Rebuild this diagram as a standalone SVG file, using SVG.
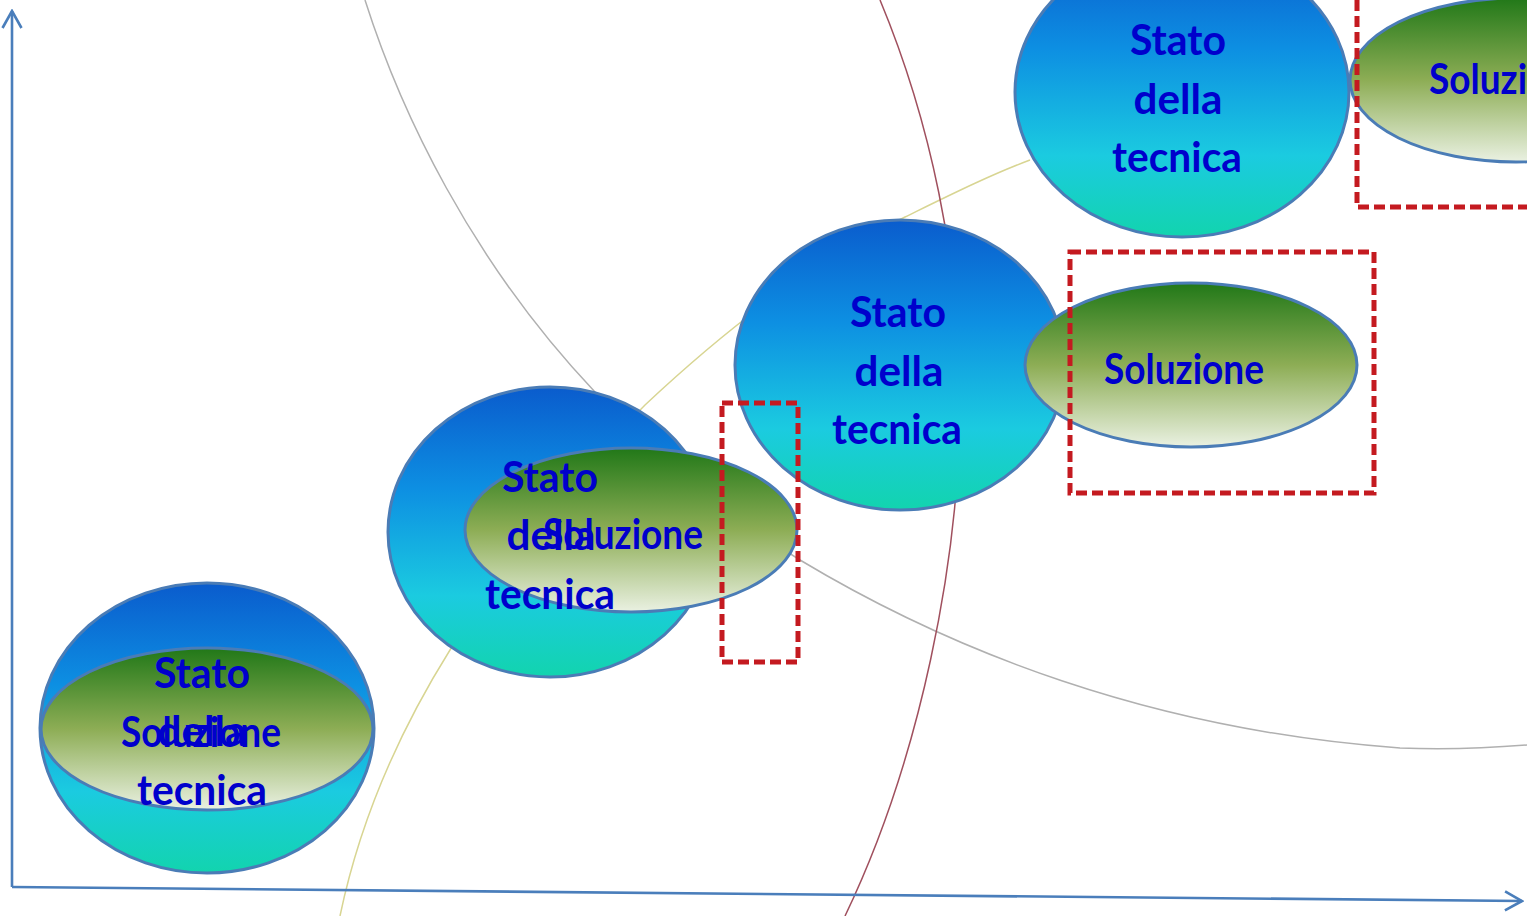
<svg xmlns="http://www.w3.org/2000/svg" width="1527" height="916" viewBox="0 0 1527 916">
  <style>
    .bg { fill: #ffffff; }
    .curve { fill: none; stroke-width: 1.5; }
    .gray { stroke: #b0b0b0; }
    .yellow { stroke: #d8d592; }
    .maroon { stroke: #a0505e; }
    .axis { fill: none; stroke: #4a7ebb; stroke-width: 2.6; }
    .stato { fill: url(#gBlue); stroke: #4a7cb6; stroke-width: 3; }
    .sol { fill: url(#gGreen); stroke: #4a7cb6; stroke-width: 3; }
    .dash { fill: none; stroke: #c41a20; stroke-width: 5; stroke-dasharray: 11 5; }
    .t { font-family: "Lato", "Noto Sans", "Liberation Sans", sans-serif; font-weight: bold; font-size: 42px; fill: #0000cc; text-anchor: middle; }
  </style>
  <defs>
    <linearGradient id="gBlue" x1="0" y1="0" x2="0" y2="1">
      <stop offset="0" stop-color="#0a5ccd"/>
      <stop offset="0.35" stop-color="#0d8fe2"/>
      <stop offset="0.72" stop-color="#1bcbe0"/>
      <stop offset="1" stop-color="#12d4ae"/>
    </linearGradient>
    <linearGradient id="gGreen" x1="0" y1="0" x2="0" y2="1">
      <stop offset="0" stop-color="#217818"/>
      <stop offset="0.5" stop-color="#8dad55"/>
      <stop offset="1" stop-color="#eaf1e2"/>
    </linearGradient>
    <marker id="chev" viewBox="0 0 20 22" refX="18" refY="11" markerWidth="20" markerHeight="22" markerUnits="userSpaceOnUse" orient="auto">
      <path d="M1,1.5 L18,11 L1,20.5" fill="none" stroke="#4a7ebb" stroke-width="2.6"/>
    </marker>
  </defs>
  <rect class="bg" x="0" y="0" width="1527" height="916"/>

  <g id="connectors">
    <path class="curve gray" d="M365,0 C400,110 470,260 595,392 C655,455 720,510 800,560 C950,650 1150,730 1400,748 C1450,750 1490,748 1527,745"/>
    <path class="curve yellow" d="M340,916 C360,820 400,730 450,650 C500,570 570,480 645,405 C720,335 800,270 905,217 C950,195 990,175 1030,160"/>
    <path class="curve maroon" d="M880,0 C930,120 960,260 960,400 C960,560 920,760 845,916"/>
  </g>

  <g id="axes">
    <path class="axis" d="M12,887 L12,11" marker-end="url(#chev)"/>
    <path class="axis" d="M12,887 L1522,901" marker-end="url(#chev)"/>
  </g>

  <g id="stage-1">
    <ellipse class="stato" cx="207" cy="728" rx="167" ry="145"/>
    <ellipse class="sol" cx="207" cy="729" rx="166" ry="81"/>
    <text class="t" x="202" y="688" textLength="96" lengthAdjust="spacingAndGlyphs">Stato</text>
    <text class="t" x="202" y="746" textLength="89" lengthAdjust="spacingAndGlyphs">della</text>
    <text class="t" x="202" y="805" textLength="130" lengthAdjust="spacingAndGlyphs">tecnica</text>
    <text class="t" x="201" y="747" textLength="160" lengthAdjust="spacingAndGlyphs">Soluzione</text>
  </g>

  <g id="stage-2">
    <ellipse class="stato" cx="550" cy="532" rx="162" ry="145"/>
    <ellipse class="sol" cx="631" cy="530" rx="166" ry="82"/>
    <text class="t" x="550" y="492" textLength="96" lengthAdjust="spacingAndGlyphs">Stato</text>
    <text class="t" x="551" y="550" textLength="89" lengthAdjust="spacingAndGlyphs">della</text>
    <text class="t" x="550" y="609" textLength="130" lengthAdjust="spacingAndGlyphs">tecnica</text>
    <text class="t" x="623" y="549" textLength="160" lengthAdjust="spacingAndGlyphs">Soluzione</text>
  </g>

  <g id="stage-3">
    <ellipse class="stato" cx="900" cy="365" rx="165" ry="145"/>
    <ellipse class="sol" cx="1191" cy="365" rx="166" ry="82"/>
    <text class="t" x="898" y="327" textLength="96" lengthAdjust="spacingAndGlyphs">Stato</text>
    <text class="t" x="899" y="386" textLength="89" lengthAdjust="spacingAndGlyphs">della</text>
    <text class="t" x="897" y="444" textLength="130" lengthAdjust="spacingAndGlyphs">tecnica</text>
    <text class="t" x="1184" y="384" textLength="160" lengthAdjust="spacingAndGlyphs">Soluzione</text>
  </g>

  <g id="stage-4">
    <ellipse class="stato" cx="1182" cy="92" rx="167" ry="145"/>
    <ellipse class="sol" cx="1516" cy="80" rx="166" ry="82"/>
    <text class="t" x="1178" y="55" textLength="96" lengthAdjust="spacingAndGlyphs">Stato</text>
    <text class="t" x="1178" y="114" textLength="89" lengthAdjust="spacingAndGlyphs">della</text>
    <text class="t" x="1177" y="172" textLength="130" lengthAdjust="spacingAndGlyphs">tecnica</text>
    <text class="t" x="1509" y="94" textLength="160" lengthAdjust="spacingAndGlyphs">Soluzione</text>
  </g>

  <g id="highlights">
    <rect class="dash" x="722" y="403" width="76" height="259"/>
    <rect class="dash" x="1070" y="252" width="304" height="241"/>
    <path class="dash" d="M1357,0 L1357,207 L1527,207"/>
  </g>
</svg>
